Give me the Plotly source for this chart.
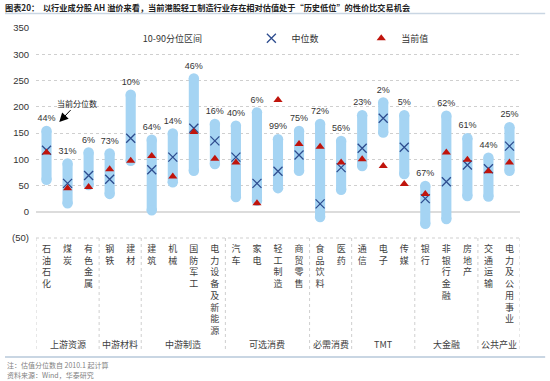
import plotly.graph_objects as go

# ---- data ----
categories = ["石油石化", "煤炭", "有色金属", "钢铁", "建材", "建筑", "机械", "国防军工",
              "电力设备及新能源", "汽车", "家电", "轻工制造", "商贸零售", "食品饮料", "医药",
              "通信", "电子", "传媒", "银行", "非银行金融", "房地产", "交通运输", "电力及公用事业"]
groups = (["上游资源"] * 3 + ["中游材料"] * 2 + ["中游制造"] * 4 + ["可选消费"] * 4 +
          ["必需消费"] * 2 + ["TMT"] * 3 + ["大金融"] * 3 + ["公共产业"] * 2)
p10 = [61, 16, 51, 34, 97, 3, 56, 78, 91, 28, 21, 45, 78, -10, 42, 87, 151, 72, -23, -14, 30, 29, 78]
p90 = [154, 92, 113, 111, 223, 137, 149, 254, 167, 164, 189, 138, 154, 167, 135, 184, 208, 184, 49, 183, 140, 103, 161]
median = [117, 54, 69, 62, 140, 80, 104, 159, 135, 104, 54, 77, 108, 15, 84, 121, 178, 123, 25, 57, 89, 82, 125]
current = [113, 45, 47, 81, 97, 106, 67, 152, 101, 94, 16, 213, 129, 124, 94, 100, 87, 53, 34, 113, 99, 77, 94]
pct_labels = ["44%", "31%", "6%", "73%", "10%", "64%", "14%", "46%", "16%", "40%", "6%", "99%",
              "75%", "72%", "56%", "23%", "2%", "5%", "67%", "62%", "61%", "44%", "25%"]
y_tickvals = [-50, 0, 50, 100, 150, 200, 250, 300, 350]
y_ticktext = ["(50)", "0", "50", "100", "150", "200", "250", "300", "350"]

BLUE = "#a5d4f3"
NAVY = "#2e4d8f"
RED = "#c0140c"
GRID = "#cfcfcf"
FONT = "Arial, 'Liberation Sans', 'Noto Sans CJK SC', sans-serif"
CJK = "'Noto Sans CJK SC', Arial, sans-serif"

vlabels = ["<br>".join(list(c)) for c in categories]
span = [h - l for h, l in zip(p90, p10)]

fig = go.Figure()
# range bar body
fig.add_trace(go.Bar(x=vlabels, y=span, base=p10, width=0.48, marker=dict(color=BLUE, line=dict(width=0)),
                     showlegend=False, hoverinfo="skip"))
# rounded ends
fig.add_trace(go.Scatter(x=vlabels, y=p10, mode="markers", marker=dict(symbol="circle", size=10.5, color=BLUE),
                         showlegend=False, hoverinfo="skip"))
fig.add_trace(go.Scatter(x=vlabels, y=p90, mode="markers+text", text=pct_labels, textposition="top center",
                         textfont=dict(size=9, color="#333333", family=FONT),
                         marker=dict(symbol="circle", size=10.5, color=BLUE),
                         showlegend=False, hoverinfo="skip"))
# median
fig.add_trace(go.Scatter(x=vlabels, y=median, mode="markers", name="中位数",
                         marker=dict(symbol="x-thin", size=9, line=dict(width=1.3, color=NAVY), color=NAVY),
                         legend="legend2"))
# current
fig.add_trace(go.Scatter(x=vlabels, y=current, mode="markers", name="当前值",
                         marker=dict(symbol="triangle-up", size=8, color=RED), legend="legend3"))
# legend entry for the range band
fig.add_trace(go.Scatter(x=[None], y=[None], mode="markers", name="10-90分位区间",
                         marker=dict(color="rgba(0,0,0,0)", size=1), legend="legend"))

legend_common = dict(orientation="h", yanchor="middle", y=0.951, xanchor="left",
                     font=dict(size=9, family=CJK, color="#333333"), bgcolor="rgba(0,0,0,0)")

fig.update_layout(
    width=550, height=381,
    margin=dict(l=36, r=30, t=28, b=143),
    paper_bgcolor="white", plot_bgcolor="white",
    font=dict(family=FONT, size=9, color="#333333"),
    legend=dict(x=0.138, **legend_common),
    legend2=dict(x=0.445, **legend_common),
    legend3=dict(x=0.672, **legend_common),
    title=dict(text="<b>图表20：  以行业成分股 AH 溢价来看，当前港股轻工制造行业存在相对估值处于“历史低位”的性价比交易机会</b>",
               x=0.009, xref="container", xanchor="left", y=0.978, yref="container", yanchor="middle",
               font=dict(size=8.2, family=CJK, color="#222222")),
    xaxis=dict(type="category", tickangle=0, showgrid=False, showline=False, ticks="",
               tickfont=dict(size=9, family=CJK, color="#404040"), ticklabelstandoff=4,
               range=[-0.5, len(categories) - 0.5]),
    yaxis=dict(range=[-50, 350], tickvals=y_tickvals, ticktext=y_ticktext,
               showgrid=True, gridcolor=GRID, griddash="dot", gridwidth=1,
               zeroline=True, zerolinecolor="#dcdcdc", zerolinewidth=2,
               showline=False, ticks="", ticklabelstandoff=6, layer="below traces",
               tickfont=dict(size=9.5, family=FONT, color="#333333")),
)

# group dividers and group labels under the category labels
bounds = [-0.5]
for i in range(1, len(groups)):
    if groups[i] != groups[i - 1]:
        bounds.append(i - 0.5)
bounds.append(len(groups) - 0.5)
for b in bounds:
    fig.add_shape(type="line", xref="x", yref="paper", x0=b, x1=b, y0=0, y1=-0.530,
                  line=dict(color=GRID, width=1, dash="dot"))
fig.add_shape(type="line", xref="paper", yref="paper", x0=0, x1=1, y0=0, y1=0,
              line=dict(color=GRID, width=1, dash="dot"))
for a, b in zip(bounds[:-1], bounds[1:]):
    name = groups[int(a + 0.5)]
    fig.add_annotation(x=(a + b) / 2, y=-0.505, xref="x", yref="paper", text=name, showarrow=False,
                       yanchor="middle", font=dict(size=9, family=CJK, color="#404040"))

fig.add_annotation(x=0.048, y=0.552, xref="paper", yref="paper", text="当前分位数",
                   showarrow=True, arrowhead=2, arrowsize=1.8, arrowwidth=1, arrowcolor="#000000",
                   ax=18, ay=-19, font=dict(size=8, family=CJK, color="#222222"))

# separator lines and notes
fig.add_shape(type="line", xref="paper", yref="paper", x0=-0.064, x1=1.052, y0=1.069, y1=1.069,
              line=dict(color="#c9d6e3", width=1.5))
fig.add_shape(type="line", xref="paper", yref="paper", x0=-0.064, x1=1.052, y0=-0.567, y1=-0.567,
              line=dict(color="#c9d6e3", width=2))
fig.add_annotation(x=-0.064, y=-0.606, xref="paper", yref="paper", xanchor="left", yanchor="middle",
                   text="注：估值分位数自 2010.1 起计算", showarrow=False,
                   font=dict(size=7, family=CJK, color="#7f7f7f"))
fig.add_annotation(x=-0.064, y=-0.654, xref="paper", yref="paper", xanchor="left", yanchor="middle",
                   text="资料来源：Wind，华泰研究", showarrow=False,
                   font=dict(size=7, family=CJK, color="#7f7f7f"))

fig.write_html("out.html", config={"displayModeBar": False},
               post_script="document.body.style.margin='0px';document.body.style.overflow='hidden';")
